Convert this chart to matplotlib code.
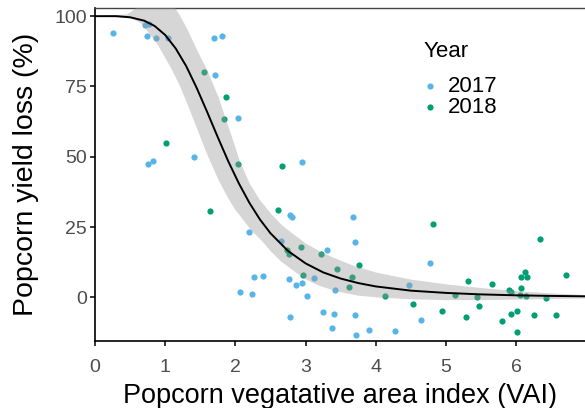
import matplotlib
matplotlib.use("Agg")
import matplotlib.pyplot as plt

plt.rcParams['font.family'] = ['Liberation Sans', 'DejaVu Sans']

# scatter data: vegetative area index vs. yield loss, by year
vai_2017 = [0.26, 0.71, 0.77, 0.74, 0.87, 1.04, 1.69, 1.81, 1.71, 2.03, 0.76, 0.82,
            1.41, 2.20, 2.27, 2.39, 2.06, 2.23, 2.65, 2.78, 2.81, 2.76, 2.78, 2.95,
            3.67, 3.71, 3.30, 2.87, 2.95, 3.12, 3.42, 3.02, 3.25, 3.40, 3.71, 3.38,
            3.72, 3.90, 4.27, 4.47, 4.77, 4.65]
loss_2017 = [94.0, 96.8, 97.2, 92.9, 92.3, 92.1, 92.1, 93.0, 79.0, 63.9, 47.3, 48.5,
             49.9, 23.3, 7.4, 7.7, 1.8, 1.3, 20.0, 29.2, 28.6, 6.4, -6.9, 48.2,
             28.6, 19.7, 17.0, 4.3, 5.1, 7.0, 2.7, 0.6, -5.3, -6.0, -6.3, -10.9,
             -13.3, -11.5, -12.1, 4.5, 12.2, -8.1]

vai_2018 = [1.55, 1.87, 1.84, 2.03, 1.01, 1.64, 2.67, 2.61, 2.93, 2.73, 2.77, 3.22,
            2.97, 3.45, 3.66, 3.62, 3.76, 4.82, 4.13, 4.53, 4.94, 5.13, 5.32, 5.44,
            5.47, 5.29, 6.34, 6.71, 6.12, 6.07, 6.16, 5.66, 6.07, 5.90, 5.92, 6.05,
            6.14, 6.42, 6.01, 5.93, 6.26, 6.56, 5.80, 6.01]
loss_2018 = [80.3, 71.3, 63.5, 47.6, 54.9, 30.6, 46.6, 31.2, 17.9, 16.7, 15.3, 15.3,
             7.9, 10.0, 7.4, 3.7, 11.6, 26.0, 0.5, -2.3, -4.9, 1.0, 5.8, 0.0,
             -3.2, -6.9, 20.6, 7.9, 9.0, 7.4, 7.4, 4.7, 3.2, 2.7, 1.8, 1.0,
             0.5, -0.1, -4.7, -5.9, -6.4, -6.4, -8.4, -12.2]

# fitted dose-response curve
fit_x = [0.0, 0.3, 0.5, 0.7, 0.85, 1.0, 1.15, 1.3, 1.45, 1.6, 1.75, 1.9, 2.05,
         2.2, 2.35, 2.5, 2.75, 3.0, 3.25, 3.5, 3.75, 4.0, 4.5, 5.0, 5.5, 6.0,
         6.5, 7.0]
fit_y = [100.0, 100.0, 99.6, 98.4, 96.5, 93.3, 88.5, 82.2, 74.4, 65.8, 56.9,
         48.3, 40.5, 33.6, 27.7, 22.8, 16.5, 12.1, 8.9, 6.7, 5.1, 3.9, 2.4, 1.6,
         1.07, 0.74, 0.53, 0.39]

# confidence band around the fit
band_x = [0.0, 0.45, 0.55, 0.65, 0.69, 0.88, 1.07, 1.1, 1.2, 1.3, 1.45, 1.57,
          1.6, 1.75, 1.9, 2.0, 2.05, 2.2, 2.25, 2.35, 2.5, 2.65, 2.75, 2.8, 3.0,
          3.2, 3.25, 3.4, 3.5, 3.7, 3.75, 4.0, 4.5, 5.0, 5.5, 6.0, 6.5, 7.0]
band_lo = [100.0, 99.7, 99.0, 97.6, 96.5, 90.3, 82.0, 80.5, 75.5, 69.5, 60.0, 52.3,
           50.5, 42.0, 35.0, 31.0, 29.5, 24.6, 23.2, 20.8, 16.5, 12.8, 11.0, 10.0, 6.5,
           4.2, 3.8, 2.6, 2.0, 1.0, 0.8, 0.2, -0.5, -0.8, -0.8, -0.6, -0.4, -0.2]
band_hi = [100.2, 100.8, 102.5, 104.5, 104.5, 104.5, 104.5, 104.5, 100.5, 96.0, 88.0, 82.0,
           80.5, 71.5, 60.5, 53.0, 49.0, 40.5, 38.5, 34.5, 30.0, 26.0, 24.0, 23.0, 19.3,
           16.5, 15.9, 14.2, 13.2, 11.2, 10.9, 9.0, 6.5, 4.8, 3.5, 2.4, 1.6, 1.0]

fig = plt.figure(figsize=(5.85, 4.08), dpi=100)
ax = fig.add_axes([95 / 585, 67 / 408, 1 - 95 / 585, 333 / 408])

ax.scatter(vai_2017, loss_2017, s=20, color='#56B4E9', linewidths=0, label='2017', zorder=2)
ax.scatter(vai_2018, loss_2018, s=20, color='#009E73', linewidths=0, label='2018', zorder=2)
ax.fill_between(band_x, band_lo, band_hi, color='#999999', alpha=0.4, linewidth=0, zorder=3)
ax.plot(fit_x, fit_y, color='black', linewidth=1.4, zorder=4)

ax.set_xlim(0, 6.98)
ax.set_ylim(-15.5, 102.9)
ax.set_xticks(range(0, 7))
ax.set_yticks([0, 25, 50, 75, 100])

ax.spines['right'].set_visible(False)
ax.spines['top'].set_color('#444444')
ax.spines['top'].set_linewidth(1.0)
for side in ['left', 'bottom']:
    ax.spines[side].set_linewidth(1.2)
    ax.spines[side].set_color('black')
ax.tick_params(length=3.6, width=1.1, color='black', labelsize=14,
               labelcolor='#4D4D4D')
ax.tick_params(axis='x', pad=9.5)
ax.tick_params(axis='y', pad=2)

ax.set_xlabel('Popcorn vegatative area index (VAI)', fontsize=19.5, labelpad=5)
ax.set_ylabel('Popcorn yield loss (%)', fontsize=20.5, labelpad=11)

# legend title drawn separately so the gap below it can be set freely
ax.text(0.671, 0.868, 'Year', transform=ax.transAxes, fontsize=16,
        ha='left', va='center')
ax.legend(loc='upper left', bbox_to_anchor=(0.62, 0.857),
          frameon=False, fontsize=16, markerscale=1.0,
          handletextpad=0.3, labelspacing=0.0, handlelength=1.0)

fig.savefig('out.png', dpi=100)
